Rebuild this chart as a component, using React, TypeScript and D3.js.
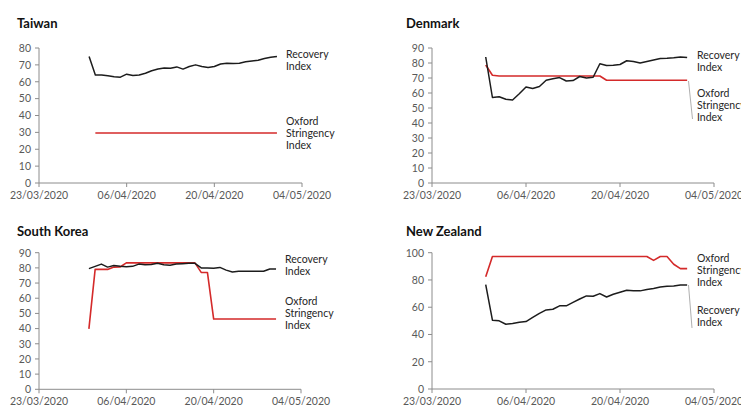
import React from 'react'
import * as d3 from 'd3'

// daily observations run 31/03/2020 .. 30/04/2020
const startDay = new Date(2020, 2, 31)
const endDay = new Date(2020, 4, 1)
const days = d3.timeDay.range(startDay, endDay)

const tickDates = ['23/03/2020', '06/04/2020', '20/04/2020', '04/05/2020']

const taiwanRecovery = [75, 64, 64, 63.5, 63, 62.7, 64.5, 63.7, 64, 65, 66.5, 67.5, 68.2, 68, 68.8, 67.5, 69, 70, 69, 68.5, 69, 70.5, 71, 70.8, 71, 71.8, 72.3, 72.7, 73.8, 74.5, 75]
const taiwanOxford = [null, 29.63, 29.63, 29.63, 29.63, 29.63, 29.63, 29.63, 29.63, 29.63, 29.63, 29.63, 29.63, 29.63, 29.63, 29.63, 29.63, 29.63, 29.63, 29.63, 29.63, 29.63, 29.63, 29.63, 29.63, 29.63, 29.63, 29.63, 29.63, 29.63, 29.63]

const denmarkRecovery = [84, 57, 57.5, 55.8, 55.3, 59.5, 64, 63, 64.3, 68.5, 69.5, 70.3, 68, 68.3, 71, 70, 70.5, 79.5, 78.3, 78.5, 79, 81.5, 81, 80, 81, 82, 83, 83.2, 83.5, 84, 83.7]
const denmarkOxford = [78.7, 71.8, 71.3, 71.3, 71.3, 71.3, 71.3, 71.3, 71.3, 71.3, 71.3, 71.3, 71.3, 71.3, 71.3, 71.3, 71.3, 71.3, 68.5, 68.5, 68.5, 68.5, 68.5, 68.5, 68.5, 68.5, 68.5, 68.5, 68.5, 68.5, 68.5]

const koreaRecovery = [79.5, 81, 82.5, 80.5, 81.5, 81, 80.8, 81, 82.5, 82, 82.3, 83, 82, 81.8, 82.5, 82.8, 83, 83, 80, 80, 79.8, 80.3, 78.5, 77.3, 77.8, 77.8, 77.7, 77.8, 77.8, 79.3, 79.2]
const koreaOxford = [39.8, 79, 79, 79, 80.5, 80.6, 83.3, 83.3, 83.3, 83.3, 83.3, 83.3, 83.3, 83.3, 83.3, 83.3, 83.3, 83.3, 77, 77, 46.3, 46.3, 46.3, 46.3, 46.3, 46.3, 46.3, 46.3, 46.3, 46.3, 46.3]

const nzRecovery = [76.5, 50.5, 50, 47.5, 48, 49, 49.5, 52.5, 55.5, 58, 58.5, 61, 61, 63.5, 66, 68.3, 68, 70, 67.5, 69.5, 71, 72.5, 72, 72, 73, 73.8, 74.8, 75.3, 75.5, 76.3, 76.3]
const nzOxford = [82.4, 97.2, 97.2, 97.2, 97.2, 97.2, 97.2, 97.2, 97.2, 97.2, 97.2, 97.2, 97.2, 97.2, 97.2, 97.2, 97.2, 97.2, 97.2, 97.2, 97.2, 97.2, 97.2, 97.2, 97.2, 94.4, 97.2, 97.2, 91.5, 88.3, 88.3]

const FONT = 'Lato, "Open Sans", sans-serif'
const RED = '#d42a2a'
const BLACK = '#1c1c1c'
const AXIS = '#8c8c8c'
const TICK_TEXT = '#595959'

type LabelSpec = { lines: string[]; y: number }

type PanelProps = {
  title: string
  ox: number // panel origin x
  oy: number // panel origin y
  x0: number
  x1: number
  yTop: number
  yBottom: number
  yMax: number
  yStep: number
  recovery: number[]
  oxford: (number | null)[]
  labels: LabelSpec[]
  labelX: number
  leader?: [number, number, number, number]
}

function Panel(p: PanelProps) {
  const x = d3.scaleTime()
    .domain([new Date(2020, 2, 23), new Date(2020, 4, 4)])
    .range([p.x0, p.x1])
  const y = d3.scaleLinear().domain([0, p.yMax]).range([p.yBottom, p.yTop])
  const yTicks = d3.range(0, p.yMax + 0.001, p.yStep)
  const xTicks = tickDates.map(s => {
    const [dd, mm, yy] = s.split('/').map(Number)
    return { label: s, date: new Date(yy, mm - 1, dd) }
  })

  const line = d3.line<number | null>()
    .defined(v => v != null)
    .x((_, i) => x(days[i]))
    .y(v => y(v as number))

  return (
    <g>
      <text x={p.ox} y={p.oy} fontFamily={FONT} fontWeight={700} fontSize={13} fill="#111">
        {p.title}
      </text>
      {/* axes */}
      <line x1={p.x0} x2={p.x0} y1={p.yTop} y2={p.yBottom} stroke={AXIS} strokeWidth={1} />
      <line x1={p.x0} x2={p.x1} y1={p.yBottom} y2={p.yBottom} stroke={AXIS} strokeWidth={1} />
      {yTicks.map(t => (
        <g key={'y' + t}>
          <line x1={p.x0 - 4} x2={p.x0} y1={y(t)} y2={y(t)} stroke={AXIS} strokeWidth={1} />
          <text x={p.x0 - 8} y={y(t) + 3.8} textAnchor="end" fontFamily={FONT} fontSize={10.5} fill={TICK_TEXT}>
            {t}
          </text>
        </g>
      ))}
      {xTicks.map(t => (
        <g key={t.label}>
          <line x1={x(t.date)} x2={x(t.date)} y1={p.yBottom} y2={p.yBottom + 4} stroke={AXIS} strokeWidth={1} />
          <text x={x(t.date)} y={p.yBottom + 16} textAnchor="middle" fontFamily={FONT} fontSize={10.5} fill={TICK_TEXT}>
            {t.label}
          </text>
        </g>
      ))}
      {/* series */}
      <path d={line(p.oxford) ?? ''} fill="none" stroke={RED} strokeWidth={1.6} strokeLinejoin="round" />
      <path d={line(p.recovery) ?? ''} fill="none" stroke={BLACK} strokeWidth={1.5} strokeLinejoin="round" />
      {p.leader && (
        <line x1={p.leader[0]} y1={p.leader[1]} x2={p.leader[2]} y2={p.leader[3]} stroke="#9a9a9a" strokeWidth={0.8} />
      )}
      {p.labels.map((l, li) =>
        l.lines.map((s, i) => (
          <text key={li + '-' + i} x={p.labelX} y={l.y + i * 12} fontFamily={FONT} fontSize={10.5} fill="#262626">
            {s}
          </text>
        ))
      )}
    </g>
  )
}

export default function App() {
  return (
    <svg
      width={741}
      height={407}
      style={{ position: 'absolute', left: 0, top: 0, background: '#fff' }}
    >
      <rect width={741} height={407} fill="#fff" />
      <Panel
        title="Taiwan" ox={17} oy={28}
        x0={39} x1={302} yTop={48} yBottom={183} yMax={80} yStep={10}
        recovery={taiwanRecovery} oxford={taiwanOxford}
        labelX={286}
        labels={[
          { lines: ['Recovery', 'Index'], y: 58 },
          { lines: ['Oxford', 'Stringency', 'Index'], y: 125 },
        ]}
      />
      <Panel
        title="Denmark" ox={406} oy={28}
        x0={432} x1={714} yTop={48} yBottom={183} yMax={90} yStep={10}
        recovery={denmarkRecovery} oxford={denmarkOxford}
        labelX={697}
        labels={[
          { lines: ['Recovery', 'Index'], y: 59 },
          { lines: ['Oxford', 'Stringency', 'Index'], y: 97 },
        ]}
        leader={[688.5, 81, 692.5, 119]}
      />
      <Panel
        title="South Korea" ox={17} oy={236}
        x0={39} x1={301} yTop={252.7} yBottom={389.3} yMax={90} yStep={10}
        recovery={koreaRecovery} oxford={koreaOxford}
        labelX={285}
        labels={[
          { lines: ['Recovery', 'Index'], y: 263 },
          { lines: ['Oxford', 'Stringency', 'Index'], y: 305 },
        ]}
      />
      <Panel
        title="New Zealand" ox={406} oy={236}
        x0={432} x1={714} yTop={252.7} yBottom={389} yMax={100} yStep={20}
        recovery={nzRecovery} oxford={nzOxford}
        labelX={697}
        labels={[
          { lines: ['Oxford', 'Stringency', 'Index'], y: 262 },
          { lines: ['Recovery', 'Index'], y: 314 },
        ]}
        leader={[688.5, 285, 692, 328]}
      />
    </svg>
  )
}
